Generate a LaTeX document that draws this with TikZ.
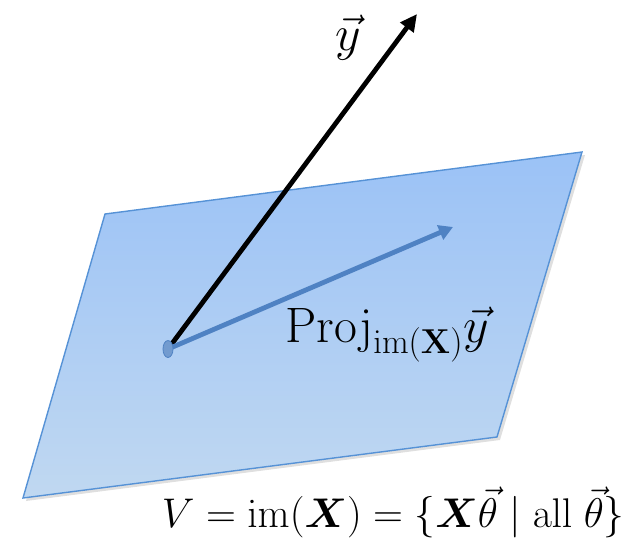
\documentclass[tikz,border=0pt]{standalone}
\usepackage{amsmath,bm}
\usetikzlibrary{arrows.meta,shadows,shapes.geometric}
\definecolor{planetop}{RGB}{155,194,246}
\definecolor{planebot}{RGB}{192,216,241}
\definecolor{planeedge}{RGB}{86,146,214}
\definecolor{projblue}{RGB}{79,130,195}
\begin{document}
\begin{tikzpicture}[x=0.5pt,y=-0.5pt, every node/.style={font=\fontsize{23}{27}\selectfont},
  plane/.style={draw=planeedge,line width=0.7pt,top color=planetop,bottom color=planebot,
    drop shadow={shadow xshift=1.5pt,shadow yshift=-1.5pt,opacity=0.25}},
  vecy/.style={line width=2.4pt,-{Triangle[length=8.5pt,width=8pt]}},
  vecproj/.style={line width=2.4pt,projblue,-{Triangle[length=7pt,width=7.5pt]}},
  origin/.style={draw=projblue,fill=projblue!80,ellipse,inner sep=0pt,minimum width=5pt,minimum height=8.5pt}]
\useasboundingbox (0,0) rectangle (634,542);
% plane
\coordinate (tl) at (105,214);
\coordinate (tr) at (582,152);
\coordinate (br) at (497,437);
\coordinate (bl) at (23,498);
\path[plane] (tl) -- (tr) -- (br) -- (bl) -- cycle;
% vectors
\coordinate (o) at (168,349);
\coordinate (ytip) at (417,14);
\coordinate (ptip) at (453,227);
\draw[vecy] (o) -- (ytip);
\draw[vecproj] (o) -- (ptip);
\node[origin] (odot) at (o) {};
% labels
\node (ylab) at (348,38) {$\vec{y}$};
\node[anchor=base west,inner sep=0pt] (plab) at (285,342) {$\mathrm{Proj}_{\mathrm{im}(\mathbf{X})}\vec{y}$};
\node[anchor=base east,inner sep=0pt,font=\fontsize{22}{26}\selectfont] (vlab) at (625,527) {$V=\mathrm{im}(\bm{X})=\{\bm{X}\vec{\theta}\mid \mathrm{all}\;\vec{\theta}\}$};
\end{tikzpicture}
\end{document}
